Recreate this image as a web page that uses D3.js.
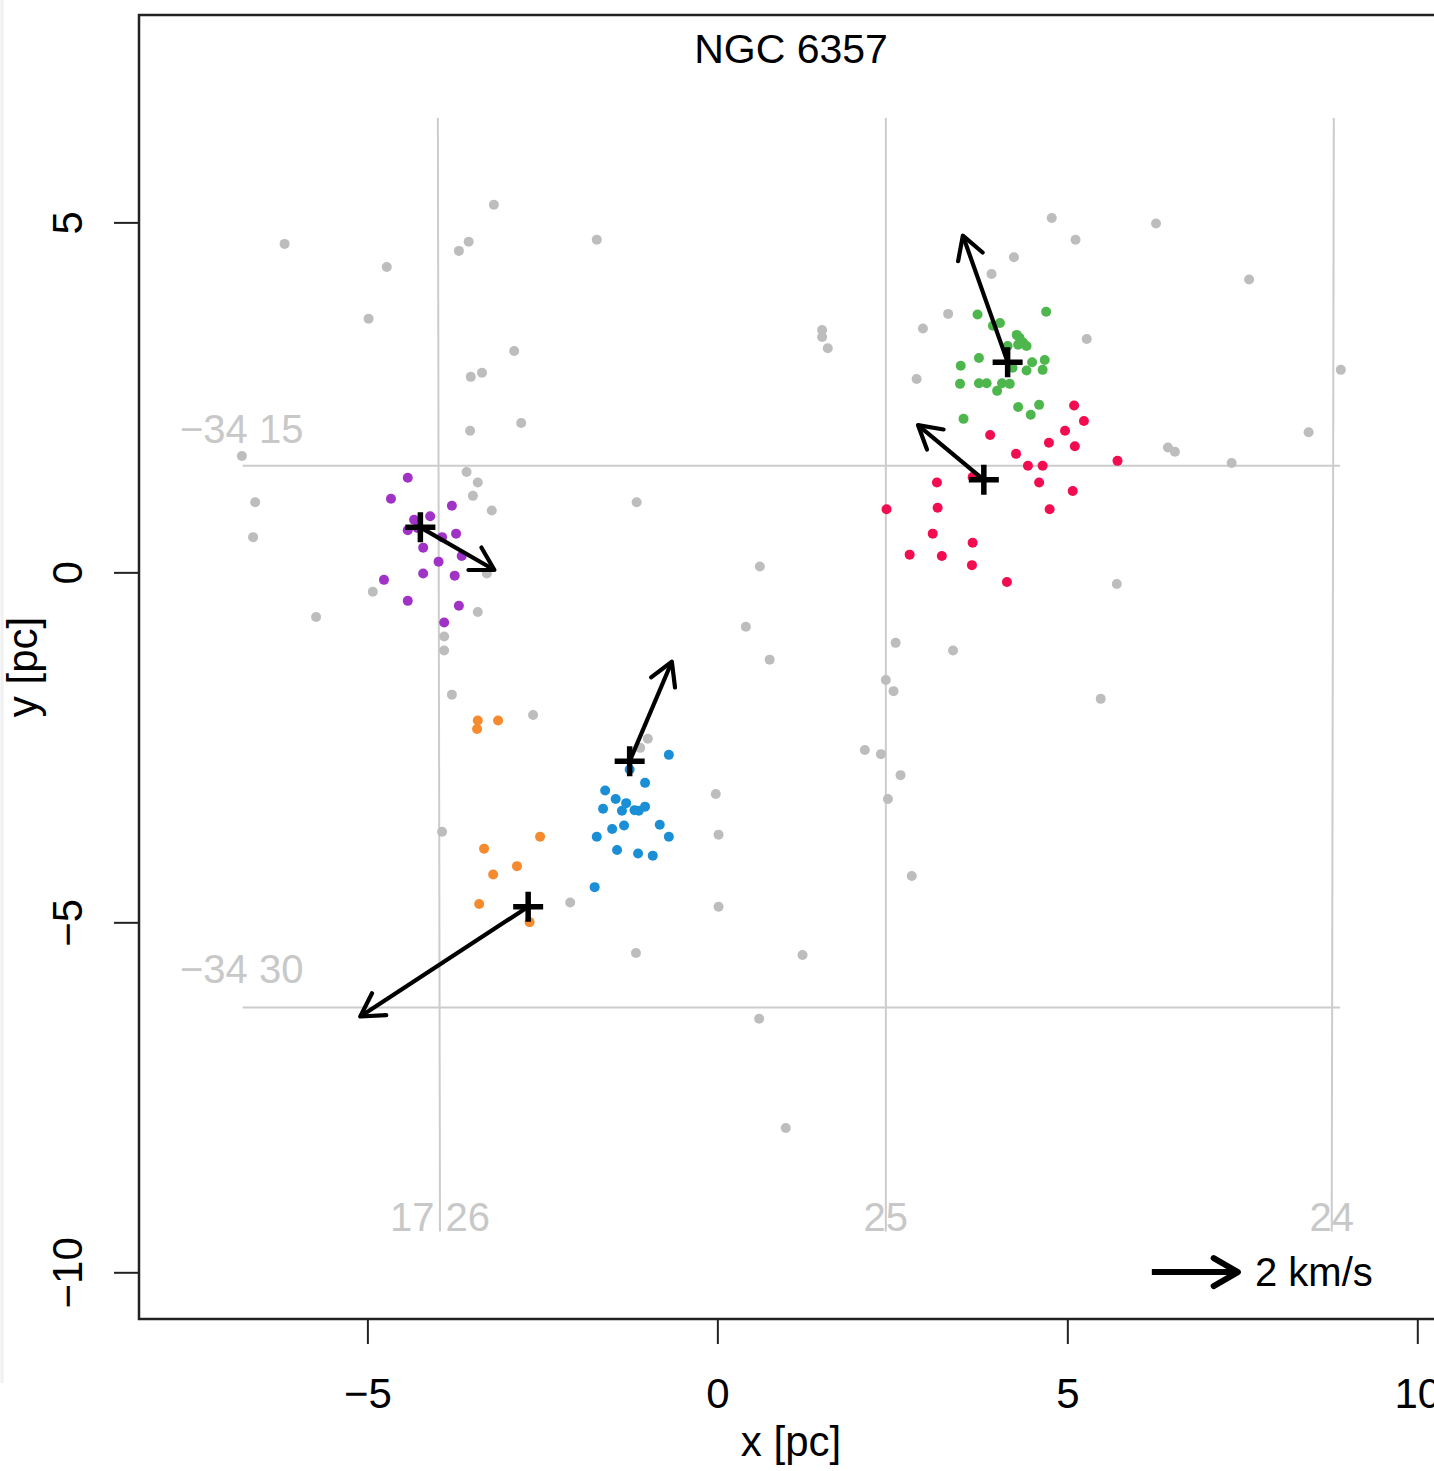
<!DOCTYPE html>
<html>
<head>
<meta charset="utf-8">
<script src="https://cdn.jsdelivr.net/npm/d3@7"></script>
<style>
  body { margin: 0; background: #fff; }
  text { font-family: "Liberation Sans", Arial, Helvetica, sans-serif; }
</style>
</head>
<body>
<div id="main"></div>
<script>
// stars not assigned to any group, [x, y] in pc
const field = [
  [-6.19,4.70],[-4.73,4.37],[-4.99,3.63],[-3.20,5.26],[-3.56,4.73],[-3.70,4.60],[-2.91,3.17],
  [-3.53,2.80],[-3.37,2.86],[-3.54,2.03],[-2.81,2.14],[-6.80,1.67],[-3.59,1.44],[-3.43,1.29],
  [-3.50,1.10],[-3.23,0.89],[-6.61,1.01],[-6.64,0.51],[-3.30,-0.01],[-4.93,-0.27],[-5.74,-0.63],
  [-3.43,-0.56],[-3.91,-0.91],[-3.91,-1.11],[-3.80,-1.74],[-2.64,-2.03],[-1.73,4.76],[-1.16,1.01],
  [0.60,0.09],[0.40,-0.77],[0.74,-1.24],[-1.00,-2.37],[-1.11,-2.50],[-0.03,-3.16],[0.01,-3.74],
  [0.01,-4.77],[-3.94,-3.70],[-2.11,-4.71],[-1.17,-5.43],[1.21,-5.46],[0.59,-6.37],[0.97,-7.93],
  [2.77,-4.33],[2.10,-2.53],[2.33,-2.59],[2.61,-2.89],[2.43,-3.23],[2.54,-1.00],[3.36,-1.11],
  [2.40,-1.53],[2.51,-1.69],[5.47,-1.80],[5.70,-0.16],[1.49,3.47],[1.49,3.37],[1.57,3.21],
  [3.29,3.70],[2.93,3.49],[2.84,2.77],[4.77,5.07],[5.11,4.76],[4.23,4.51],[3.91,4.27],
  [6.26,4.99],[5.27,3.34],[7.59,4.19],[8.90,2.90],[8.44,2.01],[6.43,1.79],[6.53,1.73],[7.34,1.57]
];

const purple = [
  [-4.43,1.36],[-4.67,1.06],[-3.80,0.96],[-4.11,0.81],[-4.34,0.76],[-4.43,0.61],[-4.29,0.64],
  [-3.94,0.51],[-3.74,0.56],[-4.21,0.36],[-3.66,0.24],[-3.99,0.16],[-4.21,-0.01],[-3.76,-0.04],
  [-4.77,-0.10],[-4.43,-0.40],[-3.70,-0.47],[-3.91,-0.71]
];
const orange = [
  [-3.43,-2.11],[-3.44,-2.23],[-3.14,-2.11],[-2.54,-3.77],[-3.34,-3.94],[-2.87,-4.19],
  [-3.21,-4.31],[-3.41,-4.73],[-2.69,-4.99]
];
const blue = [
  [-0.70,-2.60],[-1.26,-2.81],[-1.04,-3.00],[-1.61,-3.11],[-1.46,-3.23],[-1.31,-3.29],[-1.64,-3.37],
  [-1.37,-3.40],[-1.19,-3.39],[-1.13,-3.40],[-1.04,-3.34],[-1.51,-3.66],[-1.34,-3.61],[-0.83,-3.60],
  [-1.73,-3.77],[-0.70,-3.77],[-1.44,-3.96],[-1.14,-4.01],[-0.93,-4.04],[-1.76,-4.49]
];
const green = [
  [3.71,3.69],[4.69,3.73],[4.03,3.57],[3.93,3.53],[4.27,3.40],[4.31,3.36],[4.36,3.29],[4.29,3.26],
  [4.41,3.24],[4.14,3.24],[3.73,3.07],[4.49,3.01],[4.67,3.04],[3.47,2.96],[4.64,2.90],[4.41,2.89],
  [4.21,2.93],[3.46,2.70],[3.73,2.71],[3.84,2.71],[4.06,2.71],[4.17,2.70],[3.99,2.60],[4.29,2.37],
  [4.59,2.40],[4.47,2.26],[3.51,2.20]
];
const red = [
  [5.09,2.39],[5.23,2.17],[4.96,2.03],[3.89,1.97],[4.73,1.86],[5.10,1.81],[4.26,1.70],[4.43,1.53],
  [4.64,1.53],[5.71,1.60],[3.13,1.29],[3.64,1.37],[4.59,1.29],[5.07,1.17],[2.41,0.91],[3.14,0.93],
  [4.74,0.91],[3.07,0.56],[3.64,0.43],[2.74,0.26],[3.20,0.24],[3.63,0.11],[4.13,-0.13]
];

const groupNames = ['purple', 'orange', 'blue', 'green', 'red'];
const groupColors = ['#a033c6', '#f58a2e', '#1b8fd6', '#4db74d', '#f20c50'];
const groupStars = [purple, orange, blue, green, red];
// group centre (pc) and mean proper motion (km/s)
const centreX = [-4.25, -2.71, -1.26, 4.14, 3.80];
const centreY = [0.65, -4.77, -2.69, 3.01, 1.33];
const velX = [1.72, -3.90, 0.98, -1.04, -1.53];
const velY = [-0.99, -2.55, 2.31, 2.94, 1.27];
const kmsToPc = 0.615;   // arrow length per km/s

// RA / Dec grid, in pc
const raLabels = ['17 26', '25', '24'];
const raTopX = [-4.00, 2.40, 8.80];
const raBottomX = [-3.97, 2.40, 8.77];
const decLabels = ['\u221234 15', '\u221234 30'];
const decY = [1.53, -6.21];

const xTicks = [-5, 0, 5, 10];
const yTicks = [-10, -5, 0, 5];

const W = 1434, H = 1471;
const margin = {left: 139, top: 15, right: 1443, bottom: 1319};

const x = d3.scaleLinear().domain([-8.27, 10.36]).range([margin.left, margin.right]);
const y = d3.scaleLinear().domain([-10.66, 7.97]).range([margin.bottom, margin.top]);

const svg = d3.select('#main').append('svg').attr('width', W).attr('height', H);

// faint edge left over from the page
svg.append('line').attr('x1', 2).attr('x2', 2).attr('y1', 0).attr('y2', 1383)
  .attr('stroke', '#f0f0f0').attr('stroke-width', 3);

// grid
const grid = svg.append('g').attr('stroke', '#cccccc').attr('stroke-width', 2);
raTopX.forEach((v, i) => {
  grid.append('line').attr('x1', x(v)).attr('y1', y(6.5)).attr('x2', x(raBottomX[i])).attr('y2', y(-9.41));
});
decY.forEach(v => {
  grid.append('line').attr('x1', x(-6.79)).attr('y1', y(v)).attr('x2', x(8.89)).attr('y2', y(v));
});
const gridText = svg.append('g').attr('fill', '#c8c8c8').attr('font-size', 40);
raLabels.forEach((t, i) => {
  gridText.append('text').attr('x', x(raBottomX[i])).attr('y', 1231).attr('text-anchor', 'middle').text(t);
});
gridText.append('text').attr('x', 180).attr('y', 443).text(decLabels[0]);
gridText.append('text').attr('x', 180).attr('y', 983).text(decLabels[1]);

// points
svg.append('g').selectAll('circle').data(field).join('circle')
  .attr('cx', d => x(d[0])).attr('cy', d => y(d[1])).attr('r', 5).attr('fill', '#bdbdbd');

groupStars.forEach((stars, i) => {
  svg.append('g').attr('class', groupNames[i]).selectAll('circle').data(stars).join('circle')
    .attr('cx', d => x(d[0])).attr('cy', d => y(d[1])).attr('r', 5).attr('fill', groupColors[i]);
});

function arrow(g, x0, y0, x1, y1, w, head) {
  const a = Math.atan2(y1 - y0, x1 - x0);
  const h1 = [x1 - head * Math.cos(a - Math.PI / 6), y1 - head * Math.sin(a - Math.PI / 6)];
  const h2 = [x1 - head * Math.cos(a + Math.PI / 6), y1 - head * Math.sin(a + Math.PI / 6)];
  g.append('line').attr('x1', x0).attr('y1', y0).attr('x2', x1).attr('y2', y1)
    .attr('stroke', '#000').attr('stroke-width', w);
  g.append('path').attr('d', d3.line()([h1, [x1, y1], h2]))
    .attr('fill', 'none').attr('stroke', '#000').attr('stroke-width', w)
    .attr('stroke-linecap', 'round').attr('stroke-linejoin', 'round');
}

// centres and motion arrows
const marks = svg.append('g');
centreX.forEach((cx, i) => {
  const px = x(cx), py = y(centreY[i]);
  marks.append('path').attr('d', `M${px - 15},${py}H${px + 15}M${px},${py - 15}V${py + 15}`)
    .attr('stroke', '#000').attr('stroke-width', 5.5);
  arrow(marks, px, py, x(cx + velX[i] * kmsToPc), y(centreY[i] + velY[i] * kmsToPc), 4.2, 26);
});

// scale arrow
arrow(svg, x(6.2), y(-9.99), x(6.2 + 2 * kmsToPc), y(-9.99), 6, 28);
svg.append('text').attr('x', 1255).attr('y', 1286).attr('font-size', 40).text('2 km/s');

// frame
svg.append('rect').attr('x', margin.left).attr('y', margin.top)
  .attr('width', margin.right - margin.left).attr('height', margin.bottom - margin.top)
  .attr('fill', 'none').attr('stroke', '#222').attr('stroke-width', 2.5);

// axes
const xAxis = svg.append('g');
xTicks.forEach(t => {
  xAxis.append('line').attr('x1', x(t)).attr('x2', x(t)).attr('y1', margin.bottom).attr('y2', margin.bottom + 25)
    .attr('stroke', '#222').attr('stroke-width', 2);
  xAxis.append('text').attr('x', x(t)).attr('y', 1408).attr('text-anchor', 'middle').attr('font-size', 42)
    .text(t < 0 ? '\u2212' + Math.abs(t) : t);
});
const yAxis = svg.append('g');
yTicks.forEach(t => {
  yAxis.append('line').attr('x1', margin.left - 25).attr('x2', margin.left).attr('y1', y(t)).attr('y2', y(t))
    .attr('stroke', '#222').attr('stroke-width', 2);
  yAxis.append('text').attr('transform', `translate(82,${y(t)}) rotate(-90)`)
    .attr('text-anchor', 'middle').attr('font-size', 42)
    .text(t < 0 ? '\u2212' + Math.abs(t) : t);
});

svg.append('text').attr('x', 791).attr('y', 63).attr('text-anchor', 'middle').attr('font-size', 41).text('NGC 6357');
svg.append('text').attr('x', 791).attr('y', 1456).attr('text-anchor', 'middle').attr('font-size', 42).text('x [pc]');
svg.append('text').attr('transform', `translate(37,667) rotate(-90)`)
  .attr('text-anchor', 'middle').attr('font-size', 42).text('y [pc]');
</script>
</body>
</html>
